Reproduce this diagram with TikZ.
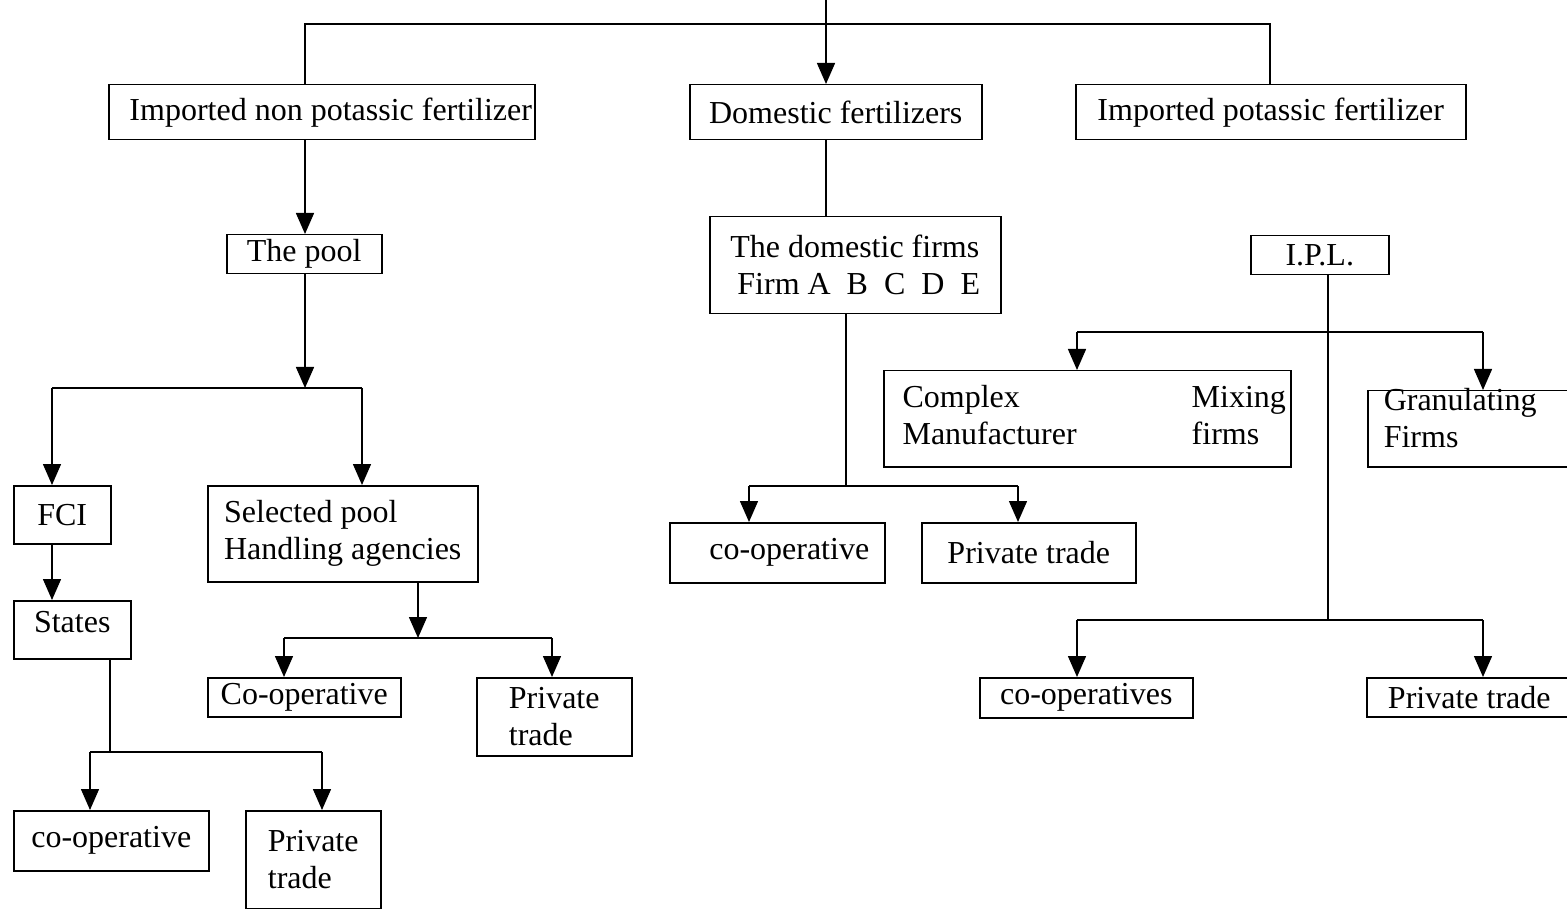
\documentclass[tikz,border=0pt]{standalone}
\usepackage{fontspec}
\setmainfont{Liberation Serif}
\usetikzlibrary{arrows.meta,calc}
\begin{document}
\begin{tikzpicture}[x=1pt,y=-1pt,
  box/.style={draw,line width=1.5pt,anchor=north west,inner sep=0pt,
    font=\fontsize{32}{37}\selectfont,align=left},
  ln/.style={line width=1.5pt},
  arr/.style={ln,-{Triangle[length=21pt,width=18pt]}}]
\path[use as bounding box,fill=white] (0,0) rectangle (1567,909);
\clip (0,0) rectangle (1567,909);

% boxes
\node[box,minimum width=426pt,minimum height=55pt] (imp) at (108,84) {\hspace*{18pt}Imported non potassic fertilizer};
\node[box,minimum width=292pt,minimum height=55pt] (dom) at (689,84) {Domestic fertilizers};
\node[box,minimum width=390pt,minimum height=55pt] (pot) at (1075,84) {Imported potassic fertilizer};
\node[box,minimum width=155pt,minimum height=39pt] (pool) at (226,234) {The pool};
\node[box,minimum width=97pt,minimum height=58pt] (fci) at (13,485) {FCI};
\node[box,minimum width=117pt,minimum height=58pt,text depth=16pt] (states) at (13,600) {States};
\node[box,minimum width=270pt,minimum height=96pt] (sel) at (207,485) {Selected pool\\Handling agencies};
\node[box,minimum width=193pt,minimum height=39pt] (coopb) at (207,677) {Co-operative};
\node[box,minimum width=155pt,minimum height=78pt] (privb) at (476,677) {Private\\trade};
\node[box,minimum width=195pt,minimum height=60pt] (coopa) at (13,810) {co-operative};
\node[box,minimum width=135pt,minimum height=98pt] (priva) at (245,810) {Private\\trade};
\node[box,minimum width=291pt,minimum height=97pt] (dfirm) at (709,216) {The domestic firms\\\hspace*{7pt}Firm A\ \ B\ \ C\ \ D\ \ E};
\node[box,minimum width=215pt,minimum height=60pt] (coopc) at (669,522) {\hspace*{24pt}co-operative};
\node[box,minimum width=214pt,minimum height=60pt] (privc) at (921,522) {Private trade};
\node[box,minimum width=138pt,minimum height=39pt] (ipl) at (1250,235) {I.P.L.};
\node[box,minimum width=407pt,minimum height=96pt] (cmplx) at (883,370)
  {\hspace*{14pt}\begin{tabular}{@{}l@{\hspace{115pt}}l@{}}Complex & Mixing\\Manufacturer & firms\end{tabular}};
\node[box,minimum width=225pt,minimum height=76pt,text height=20pt,text depth=56pt,inner xsep=16pt,text width=193pt] (gran) at (1367,390) {Granulating\\Firms};
\node[box,minimum width=213pt,minimum height=40pt] (coopd) at (979,677) {co-operatives};
\node[box,minimum width=205pt,minimum height=39pt] (privd) at (1366,677) {Private trade};

% junction coordinates
\coordinate (top) at (826,0);
\coordinate (tl) at (305,24);
\coordinate (tr) at (1270,24);
\coordinate (j1) at (305,388);
\coordinate (j1l) at (52,388);
\coordinate (j1r) at (362,388);
\coordinate (j2) at (418,638);
\coordinate (j2l) at (284,638);
\coordinate (j2r) at (552,638);
\coordinate (j3) at (110,752);
\coordinate (j3l) at (90,752);
\coordinate (j3r) at (322,752);
\coordinate (j4) at (846,486);
\coordinate (j4l) at (749,486);
\coordinate (j4r) at (1018,486);
\coordinate (j5) at (1328,620);
\coordinate (j5l) at (1077,620);
\coordinate (j5r) at (1483,620);
\coordinate (j6l) at (1077,332);
\coordinate (j6r) at (1483,332);

% connectors
\draw[arr] (top) -- (top |- dom.north);
\draw[ln] (tl |- imp.north) -- (tl) -- (tr) -- (tr |- pot.north);
\draw[arr] (tl |- imp.south) -- (tl |- pool.north);
\draw[arr] (j1 |- pool.south) -- (j1);
\draw[ln] (j1l) -- (j1r);
\draw[arr] (j1l) -- (j1l |- fci.north);
\draw[arr] (j1r) -- (j1r |- sel.north);
\draw[arr] (j1l |- fci.south) -- (j1l |- states.north);
\draw[arr] (j2 |- sel.south) -- (j2);
\draw[ln] (j2l) -- (j2r);
\draw[arr] (j2l) -- (j2l |- coopb.north);
\draw[arr] (j2r) -- (j2r |- privb.north);
\draw[ln] (j3 |- states.south) -- (j3);
\draw[ln] (j3l) -- (j3r);
\draw[arr] (j3l) -- (j3l |- coopa.north);
\draw[arr] (j3r) -- (j3r |- priva.north);
\draw[ln] (top |- dom.south) -- (top |- dfirm.north);
\draw[ln] (j4 |- dfirm.south) -- (j4);
\draw[ln] (j4l) -- (j4r);
\draw[arr] (j4l) -- (j4l |- coopc.north);
\draw[arr] (j4r) -- (j4r |- privc.north);
\draw[ln] (j5 |- ipl.south) -- (j5);
\draw[ln] (j6l) -- (j6r);
\draw[arr] (j6l) -- (j6l |- cmplx.north);
\draw[arr] (j6r) -- (j6r |- gran.north);
\draw[ln] (j5l) -- (j5r);
\draw[arr] (j5l) -- (j5l |- coopd.north);
\draw[arr] (j5r) -- (j5r |- privd.north);
\end{tikzpicture}
\end{document}
